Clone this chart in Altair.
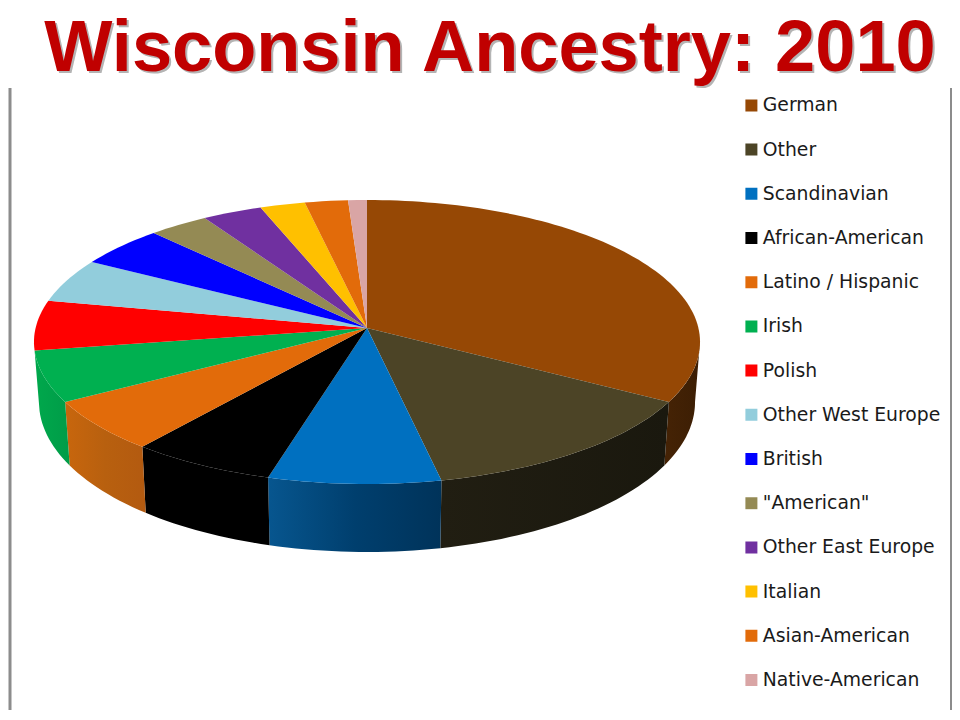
import math
import altair as alt
import pandas as pd

categories = ["German", "Other", "Scandinavian", "African-American", "Latino / Hispanic", "Irish", "Polish",
              "Other West Europe", "British", '"American"', "Other East Europe", "Italian", "Asian-American",
              "Native-American"]
shares = [33.3, 13.4, 7.6, 6.4, 5.9, 5.8, 5.7, 5.0, 4.7, 3.2, 3.2, 2.4, 2.3, 1.0]
top_colors = ["#964805", "#4c4426", "#0070c0", "#000000", "#e26b0a", "#00b050", "#ff0000",
              "#92cddc", "#0000ff", "#948a54", "#7030a0", "#ffc000", "#e26b0a", "#d9a5a5"]
wall_stops = {
    "German": ["#452305", "#3c1e04"],
    "Other": ["#211e12", "#1a180e"],
    "Scandinavian": ["#07568f", "#003f6e", "#00335a"],
    "African-American": ["#000000", "#000000"],
    "Latino / Hispanic": ["#c8660d", "#b8600f", "#b35a10"],
    "Irish": ["#00a84c", "#009c48"],
}

W, H, OFF_X, OFF_Y = 942, 702, 10, 8
CX, CY, A, B, P = 367, 328, 331.4, 140.6, 0.0986


def project(theta, drop=False):
    X, Z = math.sin(theta), math.cos(theta)
    x = A * X / (1 + P * Z)
    y = -B * Z / (1 + P * Z)
    if drop:
        return CX + x * 0.985, CY + y + 59 - 9 * Z
    return CX + x, CY + y


total = sum(shares)
top_rows, wall_rows = [], []
start = 0.0
VIS_A, VIS_B = math.radians(95.7), math.radians(264.3)
for name, share in zip(categories, shares):
    end = start + share / total * 2 * math.pi
    n = max(2, int((end - start) * 40))
    pts = [(CX, CY)] + [project(start + (end - start) * i / n) for i in range(n + 1)]
    for k, (x, y) in enumerate(pts):
        top_rows.append({"slice": name, "k": k, "px": x, "py": y})
    a, b = max(start, VIS_A), min(end, VIS_B)
    if b > a:
        arc = [a + (b - a) * i / n for i in range(n + 1)]
        poly = [project(t) for t in arc] + [project(t, True) for t in reversed(arc)]
        for k, (x, y) in enumerate(poly):
            wall_rows.append({"slice": name, "k": k, "px": x, "py": y})
    start = end

top_df = pd.DataFrame(top_rows)
wall_df = pd.DataFrame(wall_rows)

xs = alt.Scale(domain=[OFF_X, OFF_X + W], nice=False, zero=False)
ys = alt.Scale(domain=[OFF_Y + H, OFF_Y], nice=False, zero=False)
X = alt.X("px:Q", scale=xs, axis=None)
Y = alt.Y("py:Q", scale=ys, axis=None)

walls = []
for name, stops in wall_stops.items():
    grad = alt.Gradient(
        gradient="linear", x1=0, x2=1, y1=0, y2=0,
        stops=[alt.GradientStop(offset=i / (len(stops) - 1), color=c) for i, c in enumerate(stops)],
    )
    walls.append(
        alt.Chart(wall_df[wall_df["slice"] == name])
        .mark_line(fill=grad, stroke=None, strokeWidth=0, interpolate="linear")
        .encode(x=X, y=Y, order="k:Q")
    )

top = (
    alt.Chart(top_df)
    .mark_line(strokeWidth=0, interpolate="linear")
    .encode(
        x=X, y=Y, order="k:Q",
        fill=alt.Fill(
            "slice:N",
            scale=alt.Scale(domain=categories, range=top_colors),
            legend=alt.Legend(
                title=None, orient="none", legendX=732, legendY=88, symbolType="square", symbolSize=144,
                symbolStrokeWidth=0, labelFont="DejaVu Sans", labelFontSize=18.8, labelColor="#1a1a1a",
                rowPadding=24.2, labelOffset=2, labelLimit=220, clipHeight=18.8,
            ),
        ),
    )
)

title_text = "Wisconsin Ancestry: 2010"
title_df = pd.DataFrame({"t": [title_text]})
shadow = alt.Chart(title_df).mark_text(
    font="Liberation Sans", fontWeight="bold", fontSize=72.2, color="#b4b4b4", align="center", baseline="alphabetic"
).encode(text="t:N", x=alt.value(482), y=alt.value(65))
head = alt.Chart(title_df).mark_text(
    font="Liberation Sans", fontWeight="bold", fontSize=72.2, color="#c00000", align="center", baseline="alphabetic"
).encode(text="t:N", x=alt.value(480), y=alt.value(63))

left = alt.Chart(title_df).mark_rule(color="#8c8c8c", strokeWidth=3).encode(
    x=alt.value(0), y=alt.value(80), y2=alt.value(H))
right = alt.Chart(title_df).mark_rule(color="#8c8c8c", strokeWidth=2).encode(
    x=alt.value(W - 1), y=alt.value(80), y2=alt.value(H))

chart = (
    alt.layer(left, right, *walls, top, shadow, head)
    .properties(width=W, height=H, padding=0, background="white")
    .configure_view(stroke=None)
)
chart.save("out.html", embed_options={"renderer": "svg", "actions": False})
